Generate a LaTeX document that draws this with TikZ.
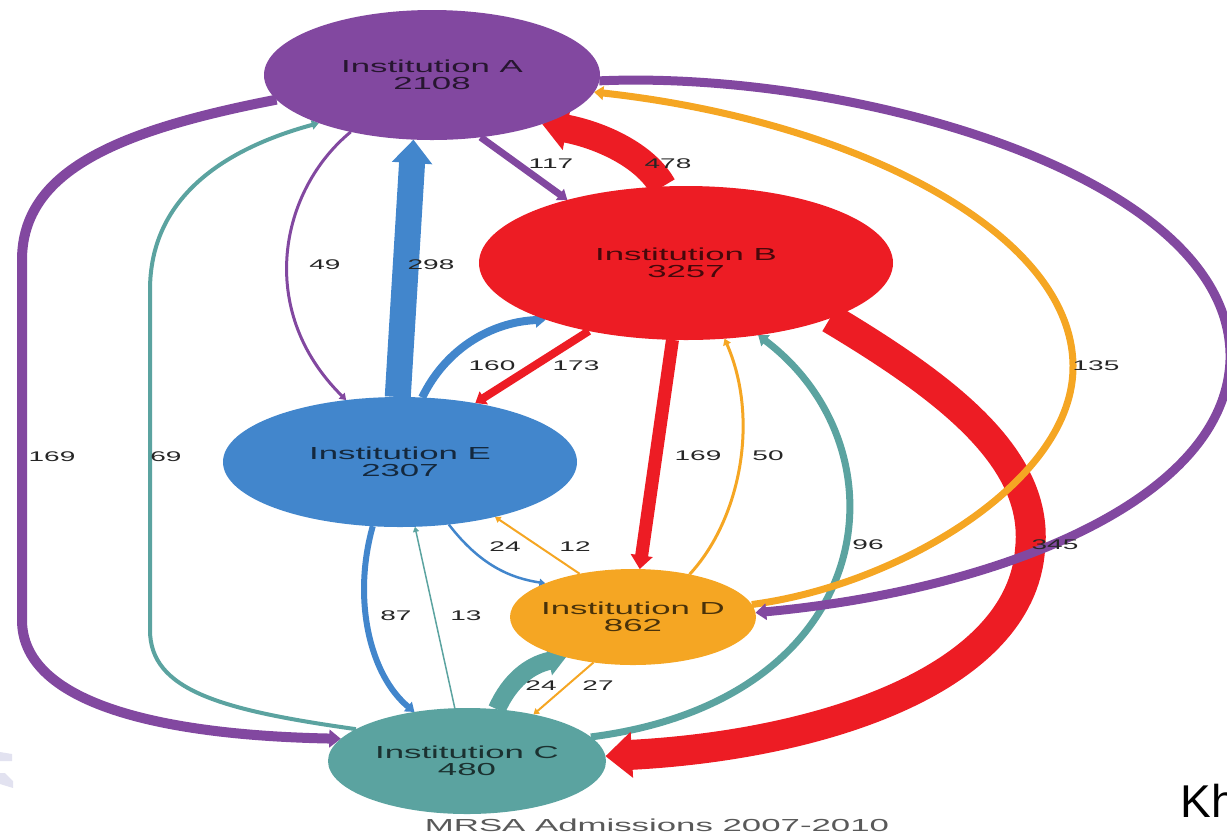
\documentclass[tikz,border=0pt]{standalone}
\usepackage{fontspec}
\setmainfont{Liberation Sans}
\newfontfamily\widefont{Liberation Sans}[FakeStretch=2.0]
\usetikzlibrary{arrows.meta,shapes.geometric,backgrounds}
\definecolor{cpurple}{RGB}{130,72,160}
\definecolor{cred}{RGB}{237,28,36}
\definecolor{cblue}{RGB}{66,134,204}
\definecolor{corange}{RGB}{245,166,35}
\definecolor{cteal}{RGB}{91,163,160}
\definecolor{clogo}{RGB}{226,226,240}
\tikzset{
  inst/.style={ellipse, inner sep=0pt, outer sep=0pt, fill=#1},
  instname/.style={font=\widefont\fontsize{8.7pt}{8.4pt}\selectfont, align=center, text=#1!30!black, inner sep=0pt},
  flow/.style={line width=#1*0.5pt, -{Triangle[width=2pt 1.35, length=2pt 0.75]}},
  num/.style={font=\widefont\fontsize{7pt}{8pt}\selectfont, text=black!85, inner sep=0pt},
}
\begin{document}
\begin{tikzpicture}[x=0.5pt,y=-0.5pt]
\useasboundingbox (0,0) rectangle (1227,832);
% nodes
\node[inst=cpurple, minimum width=168pt, minimum height=65pt] (A) at (432,75) {};
\node[inst=cred,    minimum width=207pt, minimum height=77pt] (B) at (686,263) {};
\node[inst=cblue,   minimum width=177pt, minimum height=65pt] (E) at (400,462) {};
\node[inst=corange, minimum width=123pt, minimum height=48pt] (D) at (633,617) {};
\node[inst=cteal,   minimum width=139pt, minimum height=53pt] (C) at (467,761) {};
\node[instname=cpurple] (At) at (A) {Institution A\\2108};
\node[instname=cred]    (Bt) at (B) {Institution B\\3257};
\node[instname=cblue]   (Et) at (E) {Institution E\\2307};
\node[instname=corange] (Dt) at (D) {Institution D\\862};
\node[instname=cteal]   (Ct) at (C) {Institution C\\480};
% connectors
\begin{pgfonlayer}{background}
\draw[flow=10, cpurple] (A.189) .. controls (120,130) and (22,170) .. (22,260) -- (22,620) .. controls (22,700) and (150,735) .. (C.170);
\draw[flow=4, cteal] (C.164) .. controls (220,710) and (150,690) .. (150,630) -- (150,290) .. controls (150,200) and (220,150) .. (A.203);
\draw[flow=3, cpurple] (A.215) .. controls (280,190) and (255,310) .. (E.131);
\draw[flow=26, cblue] (E.92) -- (A.254);
\draw[flow=7, cpurple] (A.-52) -- (B.152);
\draw[flow=28, cred] (B.107) .. controls (645,155) and (600,135) .. (A.-24);
\draw[flow=8, cblue] (E.71) .. controls (445,350) and (490,322) .. (B.202);
\draw[flow=8, cred] (B.215) -- (E.38);
\draw[flow=13, cred] (B.260) -- (D.82);
\draw[flow=3, corange] (D.37) .. controls (740,520) and (760,420) .. (B.-63);
\draw[flow=7, cteal] (C.11) .. controls (880,700) and (910,450) .. (B.-45);
\draw[flow=30, cred] (B.-21) .. controls (950,390) and (1040,460) .. (1030,550) .. controls (1020,680) and (820,745) .. (C.2);
\draw[flow=7, corange] (D.6) .. controls (900,585) and (1075,480) .. (1073,365) .. controls (1071,230) and (850,120) .. (A.-6);
\draw[flow=9, cpurple] (A.-2) .. controls (850,70) and (1235,175) .. (1230,360) .. controls (1225,500) and (1000,590) .. (D.2);
\draw[flow=2.5, cblue] (E.-52) .. controls (480,565) and (510,578) .. (D.159);
\draw[flow=2, corange] (D.141) -- (E.-30);
\draw[flow=6, cblue] (E.247) .. controls (352,600) and (370,675) .. (C.137);
\draw[flow=1.5, cteal] (C.103) -- (E.-77);
\draw[flow=18, cteal] (C.60) .. controls (510,680) and (530,665) .. (D.211);
\draw[flow=2, corange] (D.229) -- (C.35);
\end{pgfonlayer}
% connector labels
\node[num] (l1) at (52,457) {169};
\node[num] (l2) at (166,457) {69};
\node[num] (l3) at (325,265) {49};
\node[num] (l4) at (431,265) {298};
\node[num] (l5) at (551,164) {117};
\node[num] (l6) at (668,164) {478};
\node[num] (l7) at (492,366) {160};
\node[num] (l8) at (576,366) {173};
\node[num] (l9) at (698,456) {169};
\node[num] (l10) at (768,456) {50};
\node[num] (l11) at (1096,366) {135};
\node[num] (l12) at (868,545) {96};
\node[num] (l13) at (1055,545) {345};
\node[num] (l14) at (505,547) {24};
\node[num] (l15) at (575,547) {12};
\node[num] (l16) at (396,616) {87};
\node[num] (l17) at (466,616) {13};
\node[num] (l18) at (541,686) {24};
\node[num] (l19) at (598,686) {27};
% title and stray text
\node[font=\widefont\fontsize{8.7pt}{10pt}\selectfont, text=black!65, anchor=base, inner sep=0pt] (title) at (657,831) {MRSA Admissions 2007-2010};
\node[font=\fontsize{23pt}{26pt}\selectfont, anchor=base west, inner sep=0pt] (kh) at (1180,817) {Kh};
% faint logo fragment
\fill[clogo] (0,752) -- (12,754) -- (12,761) -- (0,761) -- cycle;
\fill[clogo] (0,773) -- (5,773) -- (13,781) -- (13,788) -- (0,784) -- cycle;
\end{tikzpicture}
\end{document}
